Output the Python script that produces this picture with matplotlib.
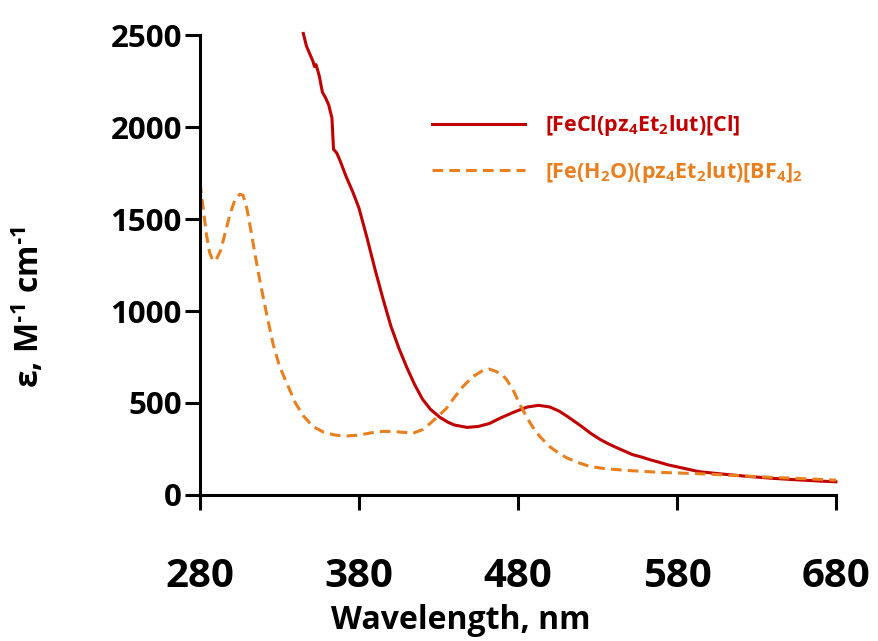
import matplotlib
matplotlib.use("Agg")
import matplotlib.pyplot as plt

# spectra (wavelength in nm, epsilon in M-1 cm-1)
fecl_wl = [345, 347, 349, 351, 352, 353, 355, 357, 359, 361, 363, 364, 366, 368,
           372, 376, 380, 385, 390, 395, 400, 405, 410, 415, 420, 425, 431, 436,
           440, 448, 455, 462, 469, 478, 486, 493, 500, 506, 511, 516, 521, 526,
           532, 537, 542, 547, 552, 558, 563, 569, 574, 584, 594, 610, 625, 640,
           655, 670, 680]
fecl_eps = [2510, 2440, 2400, 2360, 2330, 2340, 2280, 2190, 2160, 2120, 2050, 1880, 1860, 1820,
            1730, 1650, 1560, 1400, 1230, 1070, 920, 800, 695, 600, 520, 465, 421, 395,
            380, 367, 372, 388, 418, 452, 478, 487, 478, 455, 427, 397, 366, 333,
            300, 277, 257, 238, 219, 205, 191, 177, 164, 145, 126, 112, 100, 90,
            82, 75, 71]

feaq_wl = [280, 282, 284, 286, 288, 290, 293, 296, 299, 302, 305, 307, 309, 312,
           315, 318, 322, 326, 330, 335, 340, 345, 351, 358, 365, 372, 380, 388,
           395, 402, 408, 414, 420, 425, 430, 435, 440, 446, 452, 458, 462, 466,
           470, 473, 477, 481, 485, 489, 494, 500, 506, 511, 518, 525, 535, 552,
           570, 594, 620, 640, 660, 680]
feaq_eps = [1700, 1560, 1420, 1320, 1275, 1275, 1330, 1430, 1530, 1605, 1635, 1630, 1580, 1440,
            1290, 1150, 980, 820, 700, 600, 500, 430, 372, 340, 325, 320, 325, 338,
            345, 345, 340, 335, 355, 390, 430, 470, 530, 595, 645, 677, 684, 672,
            655, 625, 570, 495, 430, 372, 315, 262, 225, 200, 175, 155, 142, 131,
            122, 115, 104, 95, 88, 80]

labels = ["[FeCl(pz$_4$Et$_2$lut)[Cl]", "[Fe(H$_2$O)(pz$_4$Et$_2$lut)[BF$_4$]$_2$"]
colors = ["#C00000", "#E8801F"]
xticks = [280, 380, 480, 580, 680]
yticks = [0, 500, 1000, 1500, 2000, 2500]

plt.rcParams["font.family"] = "Open Sans"
plt.rcParams["font.weight"] = "bold"
plt.rcParams["mathtext.fontset"] = "custom"
plt.rcParams["mathtext.rm"] = "Open Sans:bold"
plt.rcParams["mathtext.it"] = "Open Sans:bold"
plt.rcParams["mathtext.bf"] = "Open Sans:bold"
plt.rcParams["mathtext.default"] = "rm"

fig = plt.figure(figsize=(8.79, 6.41), dpi=100)
ax = fig.add_axes([0.2275, 0.228, 0.7235, 0.717])

ax.plot(fecl_wl, fecl_eps, color=colors[0], lw=2.2, label=labels[0], clip_on=False)
ax.plot(feaq_wl, feaq_eps, color=colors[1], lw=2.2, ls=(0, (3.5, 2)), label=labels[1])

ax.set_xlim(280, 680)
ax.set_ylim(0, 2500)
ax.set_xticks(xticks)
ax.set_yticks(yticks)
for s in ["top", "right"]:
    ax.spines[s].set_visible(False)
for s in ["left", "bottom"]:
    ax.spines[s].set_linewidth(2.2)
ax.tick_params(axis="x", length=11, width=2.2, pad=34, labelsize=29)
ax.tick_params(axis="y", length=11, width=2.2, pad=2, labelsize=22.5)

ax.set_xlabel("Wavelength, nm", fontsize=23, fontweight="bold")
ax.xaxis.set_label_coords(0.41, -0.238)
ax.set_ylabel("ε, M$^{\u20101}$ cm$^{\u20101}$", fontsize=23, fontweight="bold")
ax.yaxis.set_label_coords(-0.24, 0.41)

ax.legend(loc="upper left", bbox_to_anchor=(0.365, 0.83), frameon=False,
          fontsize=15.5, handlelength=4.3, handletextpad=0.95, labelspacing=1.0,
          borderpad=0, borderaxespad=0, labelcolor=colors)

fig.savefig("out.png", dpi=100)
